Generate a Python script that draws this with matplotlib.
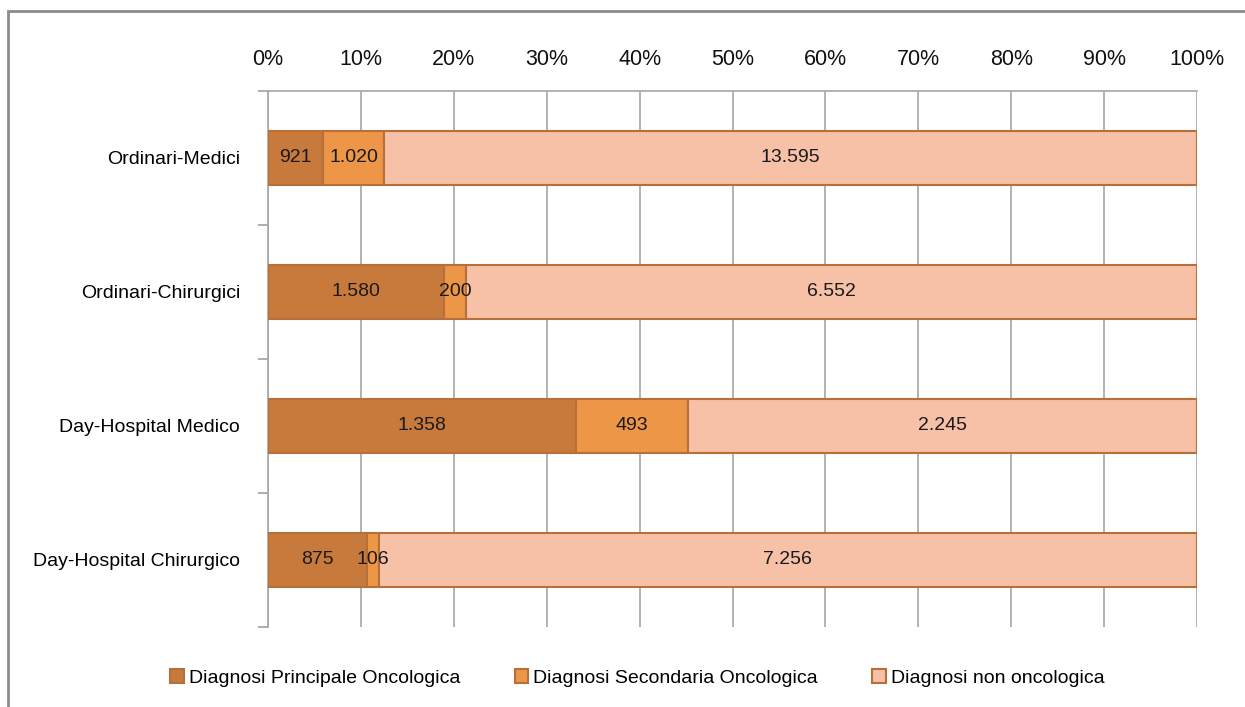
import numpy as np
import matplotlib.pyplot as plt
from matplotlib.patches import Rectangle

plt.rcParams['font.family'] = ['Liberation Sans', 'DejaVu Sans']

categorie = ["Ordinari-Medici", "Ordinari-Chirurgici", "Day-Hospital Medico", "Day-Hospital Chirurgico"]
principale = [921, 1580, 1358, 875]
secondaria = [1020, 200, 493, 106]
non_onco = [13595, 6552, 2245, 7256]
serie_nomi = ["Diagnosi Principale Oncologica", "Diagnosi Secondaria Oncologica", "Diagnosi non oncologica"]
colori = ["#C87A3C", "#EE9648", "#F6C1A6"]

def fmt(v):
    return f"{v:,}".replace(",", ".")

dati = np.array([principale, secondaria, non_onco], dtype=float)
tot = dati.sum(axis=0)
perc = dati / tot * 100

fig = plt.figure(figsize=(12.45, 7.07), dpi=100)
fig.patches.append(Rectangle((8 / 1245, -0.1), 1.2, 1 - 11 / 707 + 0.1, transform=fig.transFigure,
                             fill=False, edgecolor="#8c8c8c", linewidth=2))
ax = fig.add_axes([268 / 1245, 1 - 627 / 707, (1197 - 268) / 1245, (627 - 91) / 707])

y = np.arange(len(categorie))
left = np.zeros(len(categorie))
for i in range(3):
    bars = ax.barh(y, perc[i], left=left, height=0.40, color=colori[i], edgecolor="#B8703A",
                   linewidth=1.5, label=serie_nomi[i], zorder=3)
    for j, b in enumerate(bars):
        ax.text(left[j] + perc[i][j] / 2, y[j], fmt(int(dati[i][j])), ha="center", va="center",
                fontsize=14, color="#1a1a1a", zorder=4)
    left += perc[i]

ax.set_xlim(0, 100)
ax.set_ylim(3.5, -0.5)
ax.xaxis.tick_top()
ax.set_xticks(np.arange(0, 101, 10))
ax.set_xticklabels([f"{v}%" for v in range(0, 101, 10)], fontsize=15.5, color="#111111")
ax.tick_params(axis="x", length=0, pad=15)
ax.set_yticks(y)
ax.set_yticklabels(categorie, fontsize=14)
ax.tick_params(axis="y", which="major", length=0, pad=20)
ax.set_yticks(np.arange(-0.5, 4, 1), minor=True)
ax.tick_params(axis="y", which="minor", length=7, color="#a0a0a0", width=1.2)
ax.grid(axis="x", color="#a6a6a6", linewidth=1.2, zorder=0)
for s in ["right", "bottom"]:
    ax.spines[s].set_visible(False)
ax.spines["left"].set_color("#a6a6a6")
ax.spines["left"].set_linewidth(1.2)
ax.spines["top"].set_color("#a6a6a6")
ax.spines["top"].set_linewidth(1.2)

leg = fig.legend(loc="center", bbox_to_anchor=(0.512, 1 - 678 / 707), ncol=3, frameon=False,
                 fontsize=14, handlelength=0.7, handleheight=0.7, handletextpad=0.25, columnspacing=2.8)

fig.savefig("out.png", dpi=100)
